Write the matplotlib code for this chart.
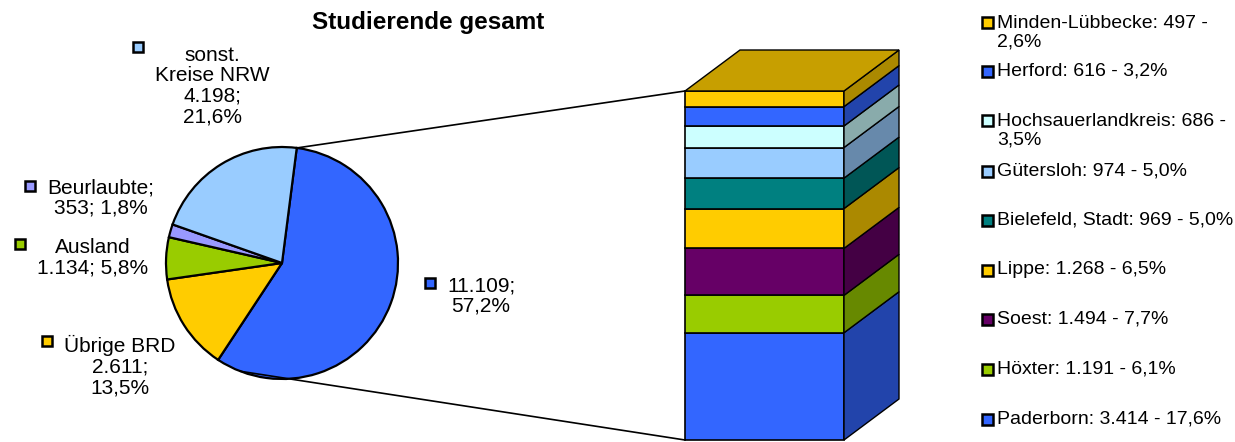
import numpy as np
import matplotlib.pyplot as plt
from matplotlib.patches import Polygon, Rectangle
from matplotlib.colors import to_rgb

plt.rcParams['font.family'] = ['Liberation Sans', 'DejaVu Sans']

W, H = 1235, 442

# pie: total students by origin (clockwise from the top)
pie_values = [11109, 2611, 1134, 353, 4198]
pie_colors = ['#3366FF', '#FFCC00', '#99CC00', '#9999FF', '#99CCFF']
pie_templates = ['{v};\n{p}', 'Übrige BRD\n{v};\n{p}', 'Ausland\n{v}; {p}',
                 'Beurlaubte;\n{v}; {p}', 'sonst.\nKreise NRW\n{v};\n{p}']

# bar: the 11.109 split by district (bottom to top)
bar_names = ['Paderborn', 'Höxter', 'Soest', 'Lippe', 'Bielefeld, Stadt',
             'Gütersloh', 'Hochsauerlandkreis', 'Herford', 'Minden-Lübbecke']
bar_values = [3414, 1191, 1494, 1268, 969, 974, 686, 616, 497]
bar_colors = ['#3366FF', '#99CC00', '#660066', '#FFCC00', '#008080',
              '#99CCFF', '#CCFFFF', '#3366FF', '#FFCC00']
wrapped = {'Hochsauerlandkreis', 'Minden-Lübbecke'}

total = sum(pie_values)


def de_num(v):
    return f"{v:,}".replace(',', '.')


def de_pct(v):
    return f"{100 * v / total:.1f}%".replace('.', ',')


def shade(c, f):
    return tuple(np.array(to_rgb(c)) * f)


# layout (pixels, measured from top)
pie_cx, pie_cy, pie_r = 282, 263, 116
start = 82.7
pie_label_pos = [(481, 296), (120, 366), (92.5, 257.5), (101, 198), (212, 86)]
pie_marker_pos = [(430, 283), (47, 341), (20, 244), (30, 186), (138, 47)]
bx0, bx1, b_top, b_bot = 685, 844, 91, 440
ddx, ddy = 55, 41
legend_y = [419, 369, 319, 270, 220, 171, 120, 71, 22]
leg_mx, leg_tx = 987, 997

fig = plt.figure(figsize=(W / 100, H / 100), dpi=100)
ax = fig.add_axes([0, 0, 1, 1])

ax.pie(pie_values, colors=pie_colors, startangle=start, counterclock=False,
       center=(pie_cx, H - pie_cy), radius=pie_r, frame=True,
       wedgeprops=dict(edgecolor='black', linewidth=1.6))

# pie labels
for val, col, tpl, (lx, ly), (mx, my) in zip(pie_values, pie_colors, pie_templates,
                                             pie_label_pos, pie_marker_pos):
    ax.text(lx, H - ly, tpl.format(v=de_num(val), p=de_pct(val)), ha='center',
            va='center', fontsize=15, linespacing=1.1)
    ax.add_patch(Rectangle((mx - 5, H - my - 5), 10, 10, facecolor=col,
                           edgecolor='black', linewidth=1.8, zorder=3))

# stacked 3D bar
scale = (b_bot - b_top) / sum(bar_values)
heights = np.array(bar_values) * scale
bottoms = (H - b_bot) + np.concatenate([[0], np.cumsum(heights)[:-1]])
ax.bar((bx0 + bx1) / 2, heights, bottom=bottoms, width=bx1 - bx0,
       color=bar_colors, edgecolor='black', linewidth=1.2, zorder=2)
for h, b, c in zip(heights, bottoms, bar_colors):
    side = [(bx1, b), (bx1 + ddx, b + ddy), (bx1 + ddx, b + h + ddy), (bx1, b + h)]
    ax.add_patch(Polygon(side, closed=True, facecolor=shade(c, 0.67),
                         edgecolor='black', linewidth=1.0, zorder=2))
top_y = bottoms[-1] + heights[-1]
top = [(bx0, top_y), (bx1, top_y), (bx1 + ddx, top_y + ddy), (bx0 + ddx, top_y + ddy)]
ax.add_patch(Polygon(top, closed=True, facecolor=shade(bar_colors[-1], 0.78),
                     edgecolor='black', linewidth=1.0, zorder=2))

# connector lines
a1, a2 = np.radians(start), np.radians(-111)
ax.plot([pie_cx + pie_r * np.cos(a1), bx0], [H - pie_cy + pie_r * np.sin(a1), top_y],
        color='black', linewidth=1.2, zorder=4)
ax.plot([pie_cx + pie_r * np.cos(a2), bx0], [H - pie_cy + pie_r * np.sin(a2), H - b_bot],
        color='black', linewidth=1.2, zorder=4)

# legend
for name, val, col, y in zip(bar_names, bar_values, bar_colors, legend_y):
    sep = ' -\n' if name in wrapped else ' - '
    label = f"{name}: {de_num(val)}{sep}{de_pct(val)}"
    yc = y + 10.7 if name in wrapped else y
    ax.text(leg_tx, H - yc, label, ha='left', va='center', fontsize=14, linespacing=1.1)
    ax.add_patch(Rectangle((leg_mx - 5.5, H - y - 5.5), 11, 11, facecolor=col,
                           edgecolor='black', linewidth=1.8, zorder=3))

ax.text(428, H - 23, 'Studierende gesamt', ha='center', va='center',
        fontsize=17.5, fontweight='bold')

ax.set_xlim(0, W)
ax.set_ylim(0, H)
ax.set_aspect('auto')
ax.axis('off')

fig.savefig('out.png', dpi=100)
